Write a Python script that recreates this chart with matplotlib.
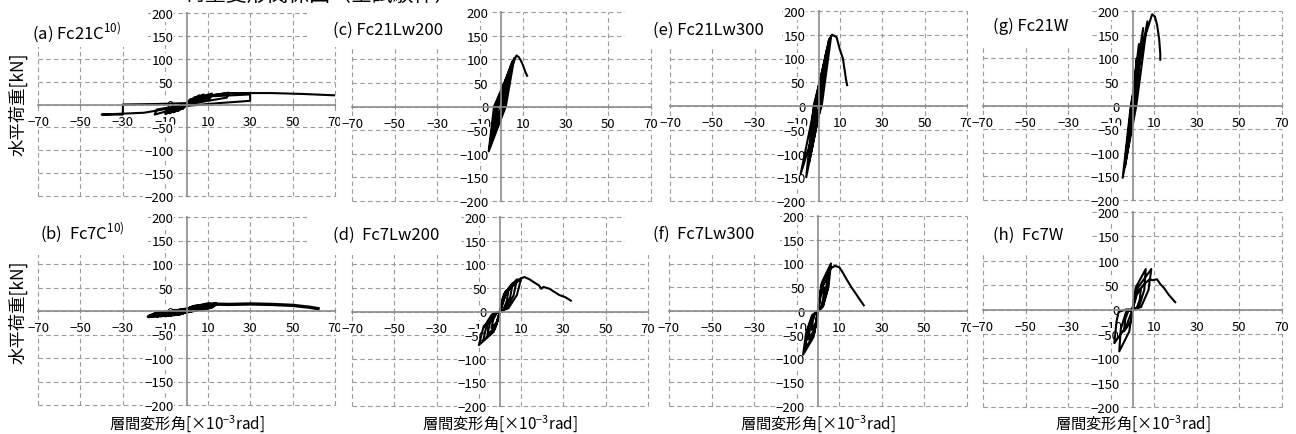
import matplotlib
matplotlib.use("Agg")
import matplotlib.pyplot as plt
from matplotlib.patches import Rectangle

plt.rcParams['font.family'] = ['Noto Sans CJK JP', 'DejaVu Sans']

# ---- data (drift x10^-3 rad, load kN) ----
xa = [0, 1, 2, 1, 0, -1, -2, -1, 0,
      2, 4, 3, 0, -2, -4, -3, 0,
      3, 6, 5, 0, -3, -6, -5, 0,
      4, 8, 7, 0, -4, -8, -7, 0,
      5, 12, 11, 0, -5, -10, -9, 0,
      8, 20, 19, 0, -8, -15, -14, 0,
      12, 30, 30, 15, 0, -10, -20, -30, -40, -30, -30, -15, 0,
      5, 20, 40, 55, 70]
ya = [0, 8, 12, 5, 0, -6, -10, -4, 0,
      10, 16, 8, 0, -8, -14, -6, 0,
      12, 20, 10, 0, -10, -17, -8, 0,
      14, 22, 12, 0, -11, -19, -9, 0,
      15, 24, 13, 0, -12, -21, -10, 0,
      17, 26, 15, 0, -13, -22, -11, 0,
      18, 22, 8, 3, -3, -10, -18, -20, -22, -22, 0, 1, 3,
      16, 25, 25, 23, 20]

xb = [0, 2, 1.5, 0, -2, -1.5, 0,
      3, 2, 0, -3, -2.5, 0,
      4, 3, 0, -4, -3, 0,
      5, 4, 0, -6, -5, 0,
      7, 5.5, 0, -8, -7, 0,
      9, 7.5, 0, -10, -9, 0,
      11, 9.5, 0, -12, -11, 0,
      13, 11.5, 0, -14, -13, 0,
      14, 12, 0, -16, -15, 0,
      -18, -16, 0,
      10, 20, 30, 40, 50, 58, 62]
yb = [0, 7, 3, 0, -5, -2, 1,
      9, 4, 0, -6, -2, 2,
      10, 5, 0, -7, -3, 2,
      11, 6, 0, -8, -3, 2,
      12, 7, -1, -9, -4, 2,
      13, 7, -1, -10, -5, 3,
      14, 8, -1, -10, -5, 3,
      14, 8, -1, -11, -6, 3,
      15, 9, -2, -11, -6, 3,
      -12, -8, 4,
      15, 14, 15, 14, 12, 8, 5]

xc = [0, 2, 0, -3, -1.5, 3, 0.5, -4, -2, 4, 1, -5, -2.5,
      5, 1.5, -5.5, -3, 6, 2, -6, -3.5,
      7, 8, 9, 10, 11, 12]
yc = [0, 40, 0, -35, 0, 60, 0, -55, 0, 80, 0, -72, 0,
      95, 0, -85, 0, 103, 0, -95, 0,
      108, 105, 98, 88, 75, 65]

xd = [0, 1.2, 4, 3.2, 1.6, 0, -1.2, -4, -3.2, -1.6, 0,
      1.8, 6, 4.8, 2.4, 0, -1.8, -6, -4.8, -2.4, 0,
      2.4, 8, 6.4, 3.2, 0, -2.4, -8, -6.4, -3.2, 0,
      3, 10, 8, 4, 0, -3, -10, -8, -4, 0,
      3, 8, 11.5, 14, 16, 18.5, 19.5, 20.5, 23.5, 25.5, 28, 31, 33.5]
yd = [0, 27, 45, 22, 4, 0, -21, -35, -17, -3, 0,
      36, 60, 30, 6, 0, -30, -50, -25, -5, 0,
      41, 68, 34, 7, 0, -37, -62, -31, -6, 0,
      42, 70, 35, 7, 0, -43, -71, -36, -7, 0,
      40, 66, 73, 68, 62, 55, 48, 52, 48, 42, 35, 30, 23]

xe = [0, 2, 0.3, -2, -1, 3, 0.5, -3, -1.5, 4, 1, -4.5, -2,
      5, 1, -5.8, -2.3, 6, 1.5, -8.4, -2.3,
      0, 3, 5, 6.5, 8.5, 10, 11.5, 13, 13.5]
ye = [0, 60, 0, -50, 0, 90, 0, -85, 0, 120, 0, -120, 0,
      140, 0, -150, 0, 148, 0, -143, -10,
      20, 90, 140, 150, 145, 120, 100, 55, 44]

xf = [0, 0.9, 3, 2.4, 1.2, 0, -0.9, -3, -2.4, -1.2, 0,
      1.3, 4.5, 3.6, 1.8, 0, -1.3, -4.5, -3.6, -1.8, 0,
      1.6, 5.5, 4.4, 2.2, 0, -1.8, -6, -4.8, -2.4, 0,
      1.8, 6.1, 4.9, 2.4, 0, -2.1, -7, -5.6, -2.8, 0,
      2, 6, 8, 10, 11.5, 13, 14.6, 16, 17.7, 19.5, 21.5]
yf = [0, 30, 50, 25, 5, 0, -24, -40, -20, -4, 0,
      45, 75, 38, 8, 0, -36, -60, -30, -6, 0,
      54, 90, 45, 9, 0, -48, -80, -40, -8, 0,
      60, 100, 50, 10, 0, -55, -92, -46, -9, 0,
      50, 90, 95, 92, 82, 70, 58, 48, 37, 25, 12]

xg = [0, 1, 0.2, -1, -0.2, 2, 0.5, -2, -0.3, 3, 0.8, -3, -0.5,
      5, 1.2, -3.5, -0.5, 7, 1.8, -4.6, -0.8,
      4, 9.2, 10.5, 11.5, 12.5, 13, 13]
yg = [0, 40, 0, -30, 0, 100, 0, -70, 0, 130, 0, -100, 0,
      164, 0, -130, 0, 178, 0, -153, 0,
      120, 193, 188, 171, 140, 110, 97]

xh = [0, 0.8, 4, 3.4, 2, 0, -0.8, -4, -3.4, -2, 0,
      1.5, 6.2, 5.5, 3, 0, -1.5, -6.2, -5.5, -3, 0,
      2.5, 8.8, 7.5, 4, 0, -3, -8.5, -7.5, -6.5, -3, 0,
      2, 5, 8, 9.5, 11.5, 13, 14.6, 17, 20]
yh = [0, 25, 45, 20, 3, 0, -25, -45, -20, -3, 0,
      45, 83, 40, 5, 0, -45, -86, -40, -5, 0,
      45, 83, 40, 5, 0, -35, -69, -25, -5, 0, 0,
      30, 50, 62, 60, 62, 52, 45, 30, 15]

titles = ["(a) Fc21C$^{\\mathregular{10)}}$", "(b)  Fc7C$^{\\mathregular{10)}}$",
          "(c) Fc21Lw200", "(d)  Fc7Lw200",
          "(e) Fc21Lw300", "(f)  Fc7Lw300",
          "(g) Fc21W", "(h)  Fc7W"]
xticks = [-70, -50, -30, -10, 10, 30, 50, 70]
yticks = [-200, -150, -100, -50, 0, 50, 100, 150, 200]
ylab = "水平荷重[kN]"
xlab = "層間変形角[×10$^{\\mathregular{-3}}$rad]"

W, H = 1296, 435
fig = plt.figure(figsize=(12.96, 4.35), dpi=100)

# pixel boxes: plot area (l, t, r, b), title position, white title box
boxes = [(38, 14, 335, 197), (38, 218, 335, 406),
         (352, 13, 651, 202), (352, 218, 648, 407),
         (670, 12, 967, 202), (669, 217, 967, 407),
         (983, 12, 1282, 201), (983, 213, 1282, 408)]
tpos = [(32, 33), (40, 233), (333, 30), (333, 235),
        (653, 30), (653, 234), (993, 26), (993, 235)]
tbox = [(18, 0, 148, 48), (18, 208, 148, 256),
        (307, 0, 466, 48), (307, 208, 460, 256),
        (625, 0, 782, 48), (625, 208, 780, 256),
        (968, 0, 1090, 48), (968, 208, 1090, 256)]
data = [(xa, ya), (xb, yb), (xc, yc), (xd, yd), (xe, ye), (xf, yf), (xg, yg), (xh, yh)]

gray = '#8c8c8c'
for i, (l, t, r, b) in enumerate(boxes):
    ax = fig.add_axes([l / W, 1 - b / H, (r - l) / W, (b - t) / H])
    ax.set_xlim(-70, 70)
    ax.set_ylim(-200, 200)
    ax.set_xticks(xticks)
    ax.set_yticks(yticks)
    ax.spines['left'].set_position(('data', 0))
    ax.spines['bottom'].set_position(('data', 0))
    ax.spines['top'].set_visible(False)
    ax.spines['right'].set_visible(False)
    for s in ['left', 'bottom']:
        ax.spines[s].set_color(gray)
        ax.spines[s].set_linewidth(1.2)
    ax.grid(True, linestyle=(0, (4, 3)), color='#9a9a9a', linewidth=0.8)
    for gl in ax.get_xgridlines() + ax.get_ygridlines():
        gl.set_clip_on(False)
    ax.set_axisbelow(True)
    ax.tick_params(axis='both', labelsize=9.5, color=gray, length=3, direction='inout')
    ax.tick_params(axis='x', pad=6)
    ax.tick_params(axis='y', pad=8)
    for lbl in ax.get_xticklabels() + ax.get_yticklabels():
        lbl.set_bbox(dict(facecolor='white', edgecolor='none', pad=0.5))
    x, y = data[i]
    ax.plot(x, y, color='black', linewidth=2.4 if i == 1 else 1.5)

    bl, bt, br, bb = tbox[i]
    fig.patches.append(Rectangle((bl / W, 1 - bb / H), (br - bl) / W, (bb - bt) / H,
                                 transform=fig.transFigure, facecolor='white',
                                 edgecolor='none', zorder=1))
    fig.text(tpos[i][0] / W, 1 - tpos[i][1] / H, titles[i], fontsize=12,
             ha='left', va='center', zorder=3)
    if i % 2 == 1:
        cx = (l + r) / 2
        fig.text(cx / W, 1 - 424 / H, xlab, fontsize=11, ha='center', va='center')

fig.text(18 / W, 1 - 104 / H, ylab, rotation=90, fontsize=12.5, ha='center', va='center')
fig.text(18 / W, 1 - 312 / H, ylab, rotation=90, fontsize=12.5, ha='center', va='center')

# chart title, cut off at the top edge of the source image
fig.text(320 / W, 1 + 5 / H, "荷重変形関係図（全試験体）", fontsize=15,
         ha='center', va='center')

fig.savefig("out.png", dpi=100)
